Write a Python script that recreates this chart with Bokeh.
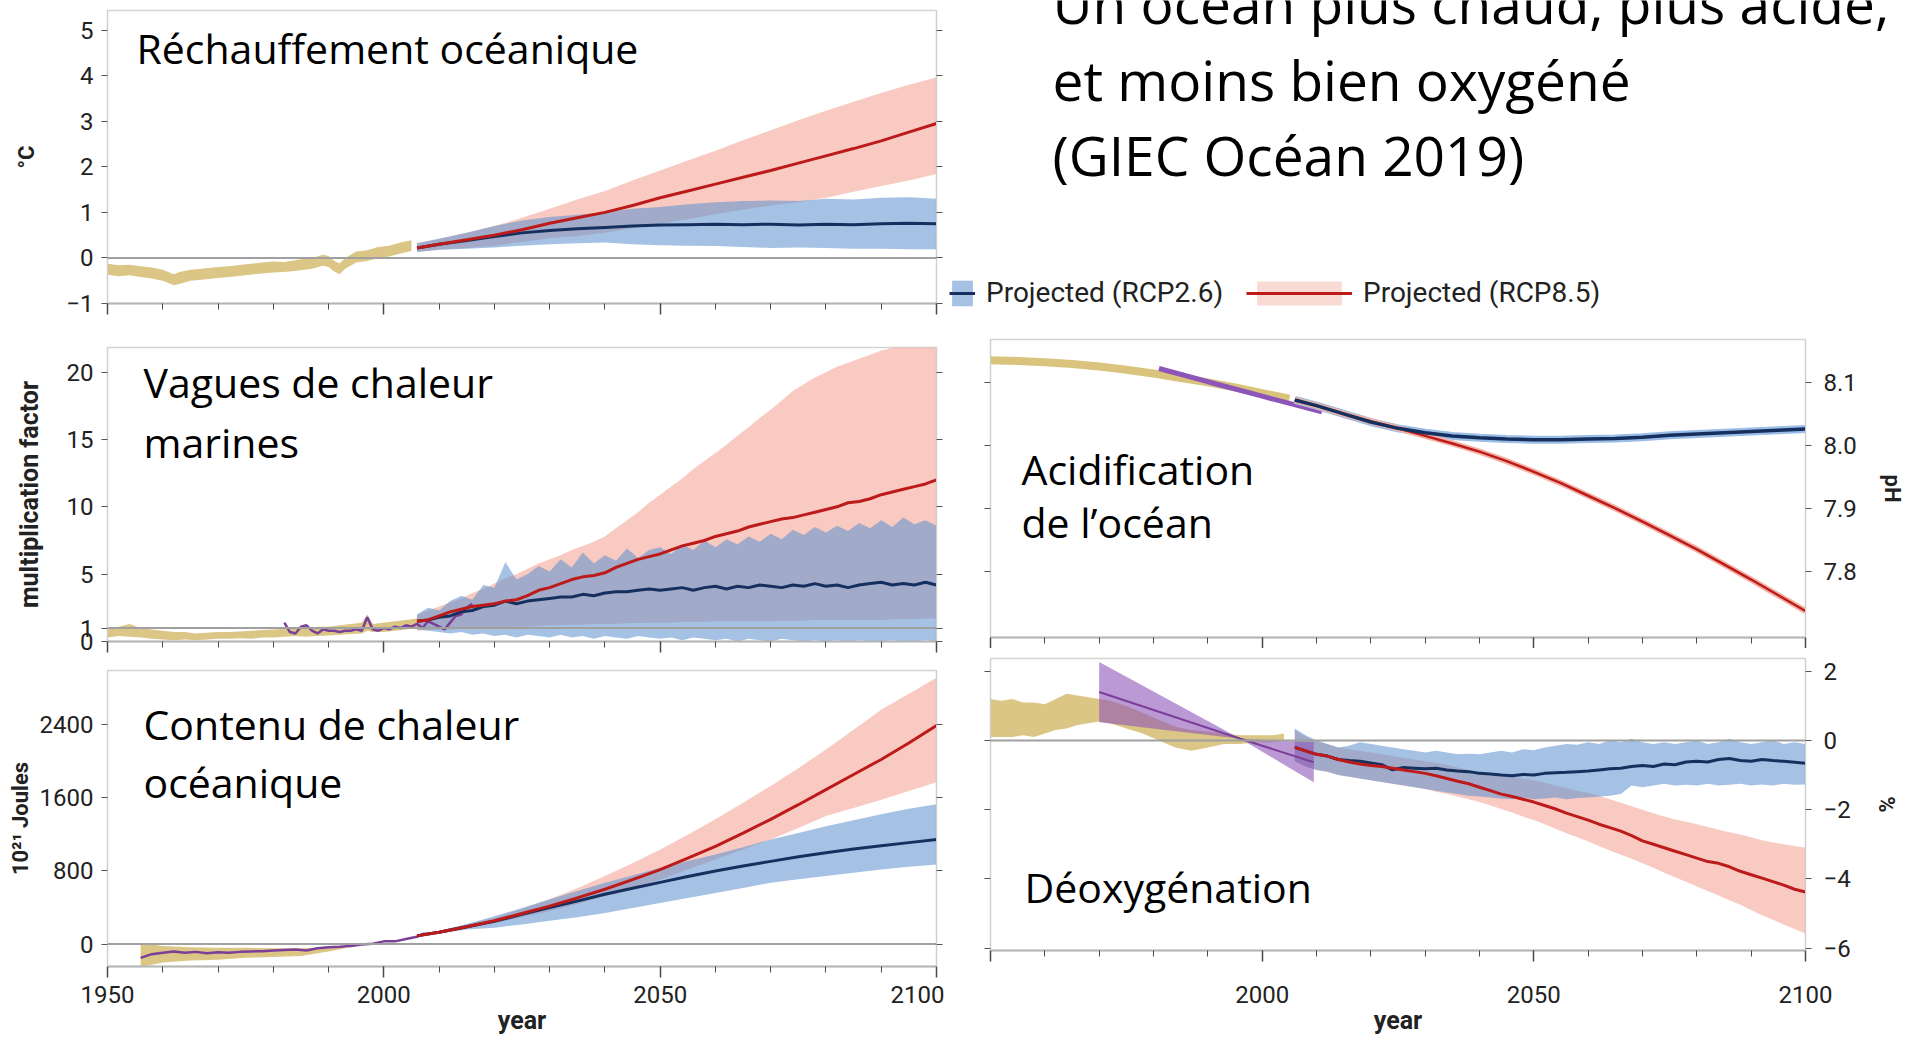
from bokeh.plotting import figure
from bokeh.layouts import row, column
from bokeh.models import Range1d, LinearAxis, FixedTicker, Label, Legend, LegendItem, Span
from bokeh.embed import file_html
from bokeh.resources import INLINE

# ---------------- DATA ----------------
x_major = [1950, 2000, 2050, 2100]
x_minor = [1950, 1960, 1970, 1980, 1990, 2000, 2010, 2020, 2030, 2040, 2050, 2060, 2070, 2080, 2090, 2100]

proj5_years = [2006, 2010, 2015, 2020, 2025, 2030, 2035, 2040, 2045, 2050,
               2055, 2060, 2065, 2070, 2075, 2080, 2085, 2090, 2095, 2100]
proj2_years = list(range(2006, 2101, 2))

# Sea surface warming (°C)
sst_hist_years = [1950, 1952, 1954, 1956, 1958, 1960, 1962, 1963, 1965, 1967, 1970, 1972, 1975, 1978, 1980,
                  1982, 1985, 1987, 1989, 1990, 1991, 1992, 1993, 1995, 1997, 1999, 2001, 2003, 2005]
sst_hist_lo = [-0.37, -0.4, -0.38, -0.42, -0.45, -0.5, -0.6, -0.57, -0.5, -0.48, -0.44, -0.42, -0.38, -0.34, -0.32,
               -0.31, -0.27, -0.24, -0.17, -0.2, -0.3, -0.36, -0.24, -0.1, -0.07, 0.0, 0.03, 0.1, 0.15]
sst_hist_hi = [-0.13, -0.16, -0.15, -0.18, -0.21, -0.26, -0.36, -0.31, -0.26, -0.24, -0.2, -0.18, -0.14, -0.1, -0.08,
               -0.09, -0.03, 0.0, 0.07, 0.04, -0.06, -0.12, 0.0, 0.14, 0.17, 0.24, 0.27, 0.34, 0.39]
sst_26 = [0.22, 0.3, 0.38, 0.47, 0.55, 0.6, 0.64, 0.67, 0.7, 0.72, 0.73, 0.74, 0.73, 0.74, 0.72, 0.74, 0.73, 0.75, 0.76, 0.75]
sst_26_lo = [0.13, 0.18, 0.2, 0.23, 0.27, 0.3, 0.32, 0.34, 0.3, 0.28, 0.27, 0.26, 0.24, 0.22, 0.23, 0.22, 0.2, 0.2, 0.19, 0.19]
sst_26_hi = [0.32, 0.42, 0.55, 0.7, 0.82, 0.9, 0.95, 1.0, 1.08, 1.12, 1.18, 1.22, 1.25, 1.26, 1.25, 1.3, 1.28, 1.32, 1.33, 1.3]
sst_85 = [0.22, 0.3, 0.4, 0.5, 0.62, 0.76, 0.88, 1.0, 1.15, 1.32, 1.47, 1.62, 1.77, 1.92, 2.08, 2.24, 2.4, 2.57, 2.76, 2.95]
sst_85_lo = [0.13, 0.18, 0.22, 0.27, 0.35, 0.43, 0.48, 0.55, 0.65, 0.75, 0.85, 0.96, 1.06, 1.15, 1.22, 1.32, 1.45, 1.58, 1.7, 1.84]
sst_85_hi = [0.32, 0.42, 0.55, 0.7, 0.88, 1.08, 1.28, 1.47, 1.7, 1.92, 2.14, 2.35, 2.58, 2.8, 3.02, 3.23, 3.43, 3.62, 3.8, 3.96]

# Marine heatwaves (multiplication factor)
mhw_hist_years = [1950, 1952, 1954, 1956, 1958, 1960, 1962, 1964, 1966, 1968, 1970, 1972, 1974, 1976, 1978,
                  1980, 1982, 1984, 1986, 1988, 1990, 1992, 1994, 1996, 1997, 1998, 2000, 2002, 2004, 2006]
mhw_hist_lo = [0.3, 0.4, 0.35, 0.3, 0.2, 0.15, 0.1, 0.15, 0.1, 0.15, 0.2, 0.2, 0.25, 0.2, 0.3,
               0.3, 0.35, 0.4, 0.35, 0.4, 0.45, 0.5, 0.55, 0.6, 0.8, 0.7, 0.7, 0.8, 0.9, 1.0]
mhw_hist_hi = [0.9, 1.1, 1.3, 1.0, 0.9, 0.8, 0.7, 0.7, 0.6, 0.65, 0.7, 0.7, 0.75, 0.8, 0.85,
               0.9, 0.95, 1.0, 1.0, 1.1, 1.1, 1.2, 1.3, 1.4, 2.0, 1.3, 1.4, 1.5, 1.6, 1.7]
mhw_obs_years = list(range(1982, 2017))
mhw_obs = [1.4, 0.7, 0.6, 1.1, 1.2, 0.8, 0.6, 0.9, 0.8, 0.8, 0.7, 0.8, 0.8, 0.9, 0.8, 1.8, 0.9, 0.8,
           1.0, 0.9, 1.1, 1.0, 1.2, 1.1, 1.3, 1.0, 1.5, 1.3, 1.1, 0.9, 1.4, 1.9, 2.0, 2.5, 2.8]
mhw_26 = [1.5, 1.6, 1.8, 1.9, 2.2, 2.3, 2.6, 2.7, 3.0, 2.8, 3.0, 3.1, 3.2, 3.3, 3.3, 3.5, 3.4, 3.6, 3.7, 3.7,
          3.8, 3.9, 3.8, 3.9, 4.0, 3.8, 4.0, 4.1, 3.9, 4.1, 4.0, 4.2, 4.1, 4.0, 4.2, 4.1, 4.3, 4.1, 4.2, 4.0,
          4.2, 4.3, 4.4, 4.2, 4.3, 4.2, 4.4, 4.2]
mhw_26_lo = [0.9, 0.8, 0.7, 0.6, 0.7, 0.5, 0.6, 0.4, 0.5, 0.3, 0.5, 0.4, 0.3, 0.5, 0.3, 0.4, 0.2, 0.4, 0.3, 0.2,
             0.4, 0.3, 0.2, 0.3, 0.1, 0.3, 0.2, 0.1, 0.2, 0.0, 0.2, 0.1, 0.0, 0.2, 0.1, 0.0, 0.1, 0.0, 0.1, 0.0,
             0.1, 0.0, 0.0, 0.1, 0.0, 0.0, 0.1, 0.0]
mhw_26_hi = [2.0, 2.5, 2.3, 3.0, 3.4, 3.1, 4.2, 4.0, 5.9, 4.6, 5.0, 5.6, 5.2, 6.1, 5.5, 6.6, 5.8, 6.4, 6.0, 6.9,
             6.2, 6.8, 7.0, 6.5, 7.2, 6.8, 7.5, 7.0, 7.6, 7.2, 7.8, 7.4, 8.0, 7.6, 8.3, 7.9, 8.5, 8.1, 8.6, 8.2,
             8.8, 8.4, 9.0, 8.5, 9.2, 8.7, 9.0, 8.6]
mhw_85 = [1.5, 1.6, 1.9, 2.2, 2.4, 2.6, 2.7, 2.8, 3.0, 3.1, 3.4, 3.8, 4.0, 4.3, 4.6, 4.8, 4.9, 5.1, 5.5, 5.8,
          6.1, 6.3, 6.5, 6.8, 7.1, 7.3, 7.5, 7.8, 8.0, 8.2, 8.5, 8.7, 8.9, 9.1, 9.2, 9.4, 9.6, 9.8, 10.0, 10.3,
          10.4, 10.6, 10.9, 11.1, 11.3, 11.5, 11.7, 12.0]
mhw_85_lo = [0.8, 0.85, 0.9, 0.9, 0.95, 0.95, 1.0, 1.0, 1.05, 1.1, 1.1, 1.15, 1.2, 1.2, 1.25, 1.25, 1.3, 1.3, 1.3, 1.35,
             1.35, 1.4, 1.4, 1.4, 1.45, 1.45, 1.45, 1.5, 1.5, 1.5, 1.5, 1.5, 1.5, 1.55, 1.55, 1.55, 1.6, 1.6, 1.6, 1.6,
             1.6, 1.6, 1.6, 1.65, 1.65, 1.65, 1.7, 1.7]
mhw_85_hi = [2.0, 2.3, 2.6, 2.9, 3.2, 3.6, 3.9, 4.3, 4.7, 5.0, 5.4, 5.8, 6.1, 6.4, 6.8, 7.1, 7.4, 7.8, 8.4, 9.0,
             9.6, 10.3, 10.9, 11.5, 12.1, 12.8, 13.4, 14.0, 14.6, 15.3, 15.9, 16.6, 17.2, 17.9, 18.6, 19.1, 19.6, 20.0,
             20.4, 20.7, 21.0, 21.3, 21.6, 21.8, 22.0, 22.2, 22.4, 22.5]

# Ocean heat content (10^21 J)
ohc_hist_years = [1956, 1960, 1965, 1970, 1975, 1980, 1985, 1990, 1993]
ohc_hist_lo = [-250, -200, -180, -170, -150, -140, -130, -80, -45]
ohc_hist_hi = [10, -20, -35, -40, -40, -45, -45, -35, -20]
ohc_obs_years = [1956, 1958, 1960, 1962, 1964, 1966, 1968, 1970, 1972, 1974, 1976, 1978, 1980, 1982, 1984, 1986,
                 1988, 1990, 1992, 1994, 1996, 1998, 2000, 2002, 2004, 2006, 2007, 2008, 2010, 2012, 2014, 2016, 2017]
ohc_obs = [-150, -110, -95, -80, -95, -85, -100, -90, -95, -85, -80, -78, -70, -65, -60, -70,
           -45, -35, -28, -20, -5, 5, 30, 30, 55, 80, 110, 115, 130, 155, 175, 200, 215]
ohc_26 = [90, 130, 190, 250, 325, 400, 470, 545, 610, 675, 740, 800, 855, 905, 955, 1000, 1040, 1075, 1110, 1145]
ohc_26_lo = [80, 115, 160, 180, 215, 255, 295, 340, 395, 450, 505, 560, 615, 670, 710, 745, 780, 815, 845, 870]
ohc_26_hi = [100, 145, 220, 305, 395, 490, 580, 670, 750, 835, 910, 980, 1060, 1145, 1215, 1290, 1355, 1420, 1480, 1530]
ohc_85 = [90, 130, 190, 255, 335, 415, 505, 600, 705, 815, 940, 1070, 1215, 1365, 1525, 1690, 1855, 2020, 2200, 2390]
ohc_85_lo = [80, 115, 165, 230, 295, 360, 440, 525, 615, 705, 815, 925, 1035, 1145, 1270, 1400, 1490, 1580, 1675, 1770]
ohc_85_hi = [100, 145, 215, 290, 385, 490, 610, 745, 885, 1035, 1195, 1365, 1545, 1730, 1925, 2130, 2345, 2565, 2740, 2915]

# Surface pH
ph_hist_years = [1950, 1955, 1960, 1965, 1970, 1975, 1980, 1985, 1990, 1995, 2000, 2005]
ph_hist = [8.135, 8.134, 8.132, 8.129, 8.125, 8.12, 8.114, 8.107, 8.1, 8.092, 8.083, 8.074]
ph_obs_years = [1981, 1990, 2000, 2011]
ph_obs = [8.122, 8.101, 8.078, 8.053]
ph_26 = [8.072, 8.063, 8.05, 8.037, 8.027, 8.02, 8.015, 8.012, 8.01, 8.009, 8.009, 8.01, 8.011, 8.013, 8.016,
         8.018, 8.02, 8.022, 8.024, 8.026]
ph_85 = [8.072, 8.063, 8.05, 8.038, 8.027, 8.015, 8.003, 7.99, 7.975, 7.958, 7.94, 7.92, 7.9, 7.879, 7.857,
         7.835, 7.811, 7.787, 7.762, 7.737]

# Oxygen content (%)
ox_hist_years = [1950, 1952, 1954, 1956, 1958, 1960, 1962, 1964, 1966, 1968, 1970, 1972, 1975, 1978, 1981, 1984,
                 1987, 1990, 1993, 1996, 1999, 2002, 2004]
ox_hist_lo = [0.1, 0.1, 0.1, 0.15, 0.1, 0.2, 0.3, 0.35, 0.45, 0.5, 0.55, 0.5, 0.35, 0.2, 0.0, -0.2,
              -0.3, -0.2, -0.1, -0.1, -0.05, -0.05, 0.0]
ox_hist_hi = [1.2, 1.15, 1.2, 1.1, 1.1, 1.05, 1.2, 1.35, 1.3, 1.25, 1.2, 1.15, 1.0, 0.8, 0.6, 0.4,
              0.3, 0.25, 0.2, 0.15, 0.15, 0.15, 0.2]
ox_obs_years = [1970, 1996, 2009.5]
ox_obs = [1.4, 0.05, -0.63]
ox_obs_lo = [0.53, 0.05, -1.21]
ox_obs_hi = [2.27, 0.05, -0.05]
ox_26 = [-0.2, -0.3, -0.4, -0.45, -0.55, -0.58, -0.6, -0.65, -0.7, -0.85, -0.78, -0.8, -0.82, -0.8, -0.85, -0.88,
         -0.9, -0.95, -0.97, -1.0, -1.02, -0.98, -1.0, -0.95, -0.93, -0.92, -0.9, -0.88, -0.85, -0.82, -0.8, -0.75,
         -0.72, -0.75, -0.68, -0.7, -0.62, -0.6, -0.62, -0.55, -0.52, -0.58, -0.6, -0.55, -0.58, -0.6, -0.63, -0.66]
ox_26_hi = [0.35, 0.15, 0.0, -0.1, -0.2, -0.15, -0.05, -0.1, -0.15, -0.2, -0.25, -0.3, -0.35, -0.3, -0.35, -0.4,
            -0.38, -0.4, -0.35, -0.3, -0.35, -0.25, -0.28, -0.2, -0.15, -0.1, -0.12, -0.05, -0.1, 0.0, -0.05, 0.05,
            -0.05, -0.1, -0.05, -0.1, -0.05, 0.0, -0.1, -0.05, 0.05, -0.05, -0.1, -0.05, 0.0, -0.1, -0.05, -0.1]
ox_26_lo = [-0.6, -0.75, -0.85, -0.9, -1.0, -1.05, -1.1, -1.15, -1.2, -1.25, -1.3, -1.35, -1.4, -1.45, -1.5, -1.55,
            -1.6, -1.62, -1.65, -1.68, -1.7, -1.65, -1.7, -1.68, -1.65, -1.7, -1.66, -1.65, -1.62, -1.6, -1.55, -1.3,
            -1.35, -1.3, -1.25, -1.3, -1.28, -1.3, -1.25, -1.3, -1.28, -1.25, -1.3, -1.27, -1.3, -1.25, -1.28, -1.27]
ox_85 = [-0.2, -0.3, -0.4, -0.45, -0.55, -0.62, -0.68, -0.72, -0.75, -0.8, -0.85, -0.9, -0.95, -1.02, -1.1, -1.18,
         -1.25, -1.35, -1.45, -1.55, -1.62, -1.7, -1.78, -1.88, -1.98, -2.1, -2.2, -2.3, -2.42, -2.52, -2.62, -2.75,
         -2.9, -3.0, -3.1, -3.2, -3.3, -3.4, -3.5, -3.55, -3.65, -3.78, -3.88, -3.98, -4.08, -4.18, -4.3, -4.38]
ox_85_hi = [0.3, 0.1, 0.0, -0.1, -0.2, -0.25, -0.3, -0.35, -0.4, -0.45, -0.5, -0.55, -0.6, -0.65, -0.7, -0.78,
            -0.85, -0.9, -0.95, -1.0, -1.05, -1.1, -1.15, -1.22, -1.3, -1.38, -1.45, -1.52, -1.6, -1.7, -1.8, -1.9,
            -2.0, -2.1, -2.2, -2.28, -2.35, -2.42, -2.5, -2.58, -2.65, -2.72, -2.8, -2.88, -2.95, -3.0, -3.05, -3.1]
ox_85_lo = [-0.6, -0.75, -0.85, -0.9, -1.0, -1.05, -1.1, -1.15, -1.2, -1.25, -1.3, -1.35, -1.4, -1.48, -1.55, -1.62,
            -1.7, -1.78, -1.88, -1.98, -2.08, -2.2, -2.3, -2.42, -2.55, -2.68, -2.8, -2.92, -3.05, -3.18, -3.3, -3.42,
            -3.55, -3.68, -3.82, -3.95, -4.08, -4.22, -4.35, -4.48, -4.62, -4.75, -4.9, -5.05, -5.18, -5.32, -5.45, -5.58]

# ---------------- STYLE ----------------
TAN = "#d2b866"
PURPLE = "#7b3f99"
PINK = "#f29684"
BLUE_BAND = "#5b8fd0"
BLUE_LINE = "#15305f"
RED_LINE = "#bd1a1a"
AX_FONT = "Roboto"
TITLE_FONT = "Open Sans"
LABEL_SHIFT = 14     # baseline correction for the 41px panel titles
TITLE_SHIFT = 21     # baseline correction for the 55px main title


def base_fig(w, h, yr, bl, br, bt, bb):
    p = figure(width=w, height=h, x_range=Range1d(1950, 2100), y_range=Range1d(*yr),
               output_backend="svg", toolbar_location=None,
               x_axis_location=None, y_axis_location=None,
               min_border_left=bl, min_border_right=br, min_border_top=bt, min_border_bottom=bb)
    p.grid.visible = False
    p.outline_line_color = "#d4d4d4"
    p.outline_line_width = 1.5
    p.background_fill_color = "white"
    p.border_fill_color = "white"
    return p


def blank_labels(ax, ticks):
    ax.major_label_overrides = {t: "" for t in ticks}
    ax.major_label_text_font_size = "1px"
    ax.major_label_standoff = 0


def x_axis(p, labels=False, standoff=10, title=None, overrides=None):
    ax = LinearAxis(ticker=FixedTicker(ticks=x_major, minor_ticks=x_minor))
    ax.axis_line_color = "#b5b5b5"
    ax.axis_line_width = 2
    ax.major_tick_line_color = "#4a4a4a"
    ax.major_tick_line_width = 1.5
    ax.major_tick_out = 11
    ax.major_tick_in = 0
    ax.minor_tick_line_color = "#4a4a4a"
    ax.minor_tick_out = 6
    ax.minor_tick_in = 0
    if labels:
        ax.major_label_text_font = AX_FONT
        ax.major_label_text_font_size = "24px"
        ax.major_label_text_color = "#222222"
        ax.major_label_standoff = standoff
        if overrides:
            ax.major_label_overrides = overrides
    else:
        blank_labels(ax, x_major)
    if title:
        ax.axis_label = title
        ax.axis_label_text_font = AX_FONT
        ax.axis_label_text_font_style = "bold"
        ax.axis_label_text_font_size = "25px"
        ax.axis_label_text_color = "#222222"
        ax.axis_label_standoff = 0
    p.add_layout(ax, "below")


def y_axis(p, ticks, side, labels=True, title=None, standoff=8, title_standoff=10, overrides=None,
           title_size="22px"):
    ax = LinearAxis(ticker=FixedTicker(ticks=ticks, minor_ticks=[]))
    ax.axis_line_color = "#cfcfcf"
    ax.major_tick_line_color = "#555555"
    ax.major_tick_out = 6
    ax.major_tick_in = 0
    if labels:
        ax.major_label_text_font = AX_FONT
        ax.major_label_text_font_size = "24px"
        ax.major_label_text_color = "#222222"
        ax.major_label_standoff = standoff
        if overrides:
            ax.major_label_overrides = overrides
    else:
        blank_labels(ax, ticks)
    if title:
        ax.axis_label = title
        ax.axis_label_text_font = AX_FONT
        ax.axis_label_text_font_style = "bold"
        ax.axis_label_text_font_size = title_size
        ax.axis_label_text_color = "#222222"
        ax.axis_label_standoff = title_standoff
    p.add_layout(ax, side)


def hline(p, v):
    p.add_layout(Span(location=v, dimension="width", line_color="#a0a0a0", line_width=2))


def xpx(px, x0, x1):
    return 1950 + (px - x0) * 150.0 / (x1 - x0)


def ypx(py, top, bot, ymin, ymax):
    return ymax - (py - LABEL_SHIFT - top) * (ymax - ymin) / (bot - top)


def text(p, x, y, s, size="41px", font=TITLE_FONT):
    p.add_layout(Label(x=x, y=y, text=s, text_font=font, text_font_size=size,
                       text_color="black", text_baseline="alphabetic", text_align="left"))


# ---------------- LEFT COLUMN ----------------
LW = 944
LX0, LX1 = 107, 936

# Panel 1: warming
Y1 = (-1.0, 5.43)
p1 = base_fig(LW, 330, Y1, 107, 8, 10, 27)
y_axis(p1, [-1, 0, 1, 2, 3, 4, 5], "left", title="°C", standoff=8, title_standoff=24, overrides={-1: "−1"})
y_axis(p1, [-1, 0, 1, 2, 3, 4, 5], "right", labels=False)
x_axis(p1)
hline(p1, 0)
p1.varea(x=proj5_years, y1=sst_85_lo, y2=sst_85_hi, fill_color=PINK, fill_alpha=0.5)
p1.varea(x=proj5_years, y1=sst_26_lo, y2=sst_26_hi, fill_color=BLUE_BAND, fill_alpha=0.55)
p1.varea(x=sst_hist_years, y1=sst_hist_lo, y2=sst_hist_hi, fill_color=TAN, fill_alpha=0.8)
p1.line(x=proj5_years, y=sst_26, line_color=BLUE_LINE, line_width=3)
p1.line(x=proj5_years, y=sst_85, line_color=RED_LINE, line_width=3)
text(p1, xpx(136, LX0, LX1), ypx(61, 10, 303, *Y1), "Réchauffement océanique")

# Panel 2: marine heatwaves
Y2 = (0.0, 21.83)
p2 = base_fig(LW, 325, Y2, 107, 8, 17, 14)
y_axis(p2, [0, 1, 5, 10, 15, 20], "left", title="multiplication factor", standoff=8, title_standoff=20,
       title_size="25px")
y_axis(p2, [0, 1, 5, 10, 15, 20], "right", labels=False)
x_axis(p2)
hline(p2, 1)
p2.varea(x=proj2_years, y1=mhw_85_lo, y2=mhw_85_hi, fill_color=PINK, fill_alpha=0.5)
p2.varea(x=proj2_years, y1=mhw_26_lo, y2=mhw_26_hi, fill_color=BLUE_BAND, fill_alpha=0.55)
p2.varea(x=mhw_hist_years, y1=mhw_hist_lo, y2=mhw_hist_hi, fill_color=TAN, fill_alpha=0.8)
p2.line(x=mhw_obs_years, y=mhw_obs, line_color=PURPLE, line_width=2.5)
p2.line(x=proj2_years, y=mhw_26, line_color=BLUE_LINE, line_width=3)
p2.line(x=proj2_years, y=mhw_85, line_color=RED_LINE, line_width=3)
text(p2, xpx(143, LX0, LX1), ypx(395, 347, 641, *Y2), "Vagues de chaleur")
text(p2, xpx(143, LX0, LX1), ypx(455, 347, 641, *Y2), "marines")

# Panel 3: heat content
Y3 = (-245.0, 2993.0)
p3 = base_fig(LW, 386, Y3, 107, 8, 15, 75)
y_axis(p3, [0, 800, 1600, 2400], "left", title="10²¹ Joules", standoff=8, title_standoff=4)
y_axis(p3, [0, 800, 1600, 2400], "right", labels=False)
x_axis(p3, labels=True, standoff=8, title="year")
hline(p3, 0)
p3.varea(x=proj5_years, y1=ohc_85_lo, y2=ohc_85_hi, fill_color=PINK, fill_alpha=0.5)
p3.varea(x=proj5_years, y1=ohc_26_lo, y2=ohc_26_hi, fill_color=BLUE_BAND, fill_alpha=0.55)
p3.varea(x=ohc_hist_years, y1=ohc_hist_lo, y2=ohc_hist_hi, fill_color=TAN, fill_alpha=0.8)
p3.line(x=ohc_obs_years, y=ohc_obs, line_color=PURPLE, line_width=2.5)
p3.line(x=proj5_years, y=ohc_26, line_color=BLUE_LINE, line_width=3)
p3.line(x=proj5_years, y=ohc_85, line_color=RED_LINE, line_width=3)
text(p3, xpx(143, LX0, LX1), ypx(737, 670, 966, *Y3), "Contenu de chaleur")
text(p3, xpx(143, LX0, LX1), ypx(795, 670, 966, *Y3), "océanique")

# ---------------- RIGHT COLUMN ----------------
RW = 977
RX_PAGE = 944            # page x of the right column
RX0, RX1 = 990, 1805
TH = 328

# Title + legend (figure coordinates = pixels from the column's top-left corner)
pt = figure(width=RW, height=TH, x_range=Range1d(0, RW), y_range=Range1d(TH, 0),
            output_backend="svg", toolbar_location=None, x_axis_location=None, y_axis_location=None,
            min_border_left=0, min_border_right=0, min_border_top=0, min_border_bottom=0)
pt.grid.visible = False
pt.outline_line_color = None
pt.border_fill_color = "white"
pt.background_fill_color = "white"
for base_y, s in [(23, "Un océan plus chaud, plus acide,"), (100, "et moins bien oxygéné"), (175, "(GIEC Océan 2019)")]:
    pt.add_layout(Label(x=1052 - RX_PAGE, y=base_y - TITLE_SHIFT, text=s, text_font=TITLE_FONT,
                        text_font_size="55px", text_color="black", text_baseline="alphabetic"))
# legend swatch renderers (their years lie outside this figure's pixel range, so only the legend shows them)
lb_area = pt.varea(x=proj5_years, y1=sst_26_lo, y2=sst_26_hi, fill_color=BLUE_BAND, fill_alpha=0.55)
lb_line = pt.line(x=proj5_years, y=sst_26, line_color=BLUE_LINE, line_width=3)
lr_area = pt.varea(x=proj5_years, y1=sst_85_lo, y2=sst_85_hi, fill_color=PINK, fill_alpha=0.35)
lr_line = pt.line(x=proj5_years, y=sst_85, line_color=RED_LINE, line_width=3)
legend_style = dict(label_height=32, label_standoff=11, padding=0, margin=0, border_line_color=None,
                    background_fill_alpha=0, label_text_font=AX_FONT, label_text_font_size="28px",
                    label_text_color="#222222")
leg1 = Legend(items=[LegendItem(label="Projected (RCP2.6)", renderers=[lb_area, lb_line])],
              location=(949 - RX_PAGE, TH - 309), glyph_width=26, glyph_height=32, **legend_style)
leg2 = Legend(items=[LegendItem(label="Projected (RCP8.5)", renderers=[lr_area, lr_line])],
              location=(1246 - RX_PAGE, TH - 309), glyph_width=106, glyph_height=30, **legend_style)
pt.add_layout(leg1)
pt.add_layout(leg2)

# Panel 4: pH
Y4 = (7.695, 8.168)
p4 = base_fig(RW, 320, Y4, RX0 - RX_PAGE, RX_PAGE + RW - RX1, 11, 11)
y_axis(p4, [7.8, 7.9, 8.0, 8.1], "left", labels=False)
y_axis(p4, [7.8, 7.9, 8.0, 8.1], "right", title="pH", standoff=12, title_standoff=20,
       overrides={7.8: "7.8", 7.9: "7.9", 8.0: "8.0", 8.1: "8.1"})
x_axis(p4)
p4.line(x=ph_hist_years, y=ph_hist, line_color=TAN, line_width=8, line_alpha=0.85)
p4.line(x=ph_obs_years, y=ph_obs, line_color="#8d55b8", line_width=5)
p4.line(x=proj5_years, y=ph_26, line_color="#9cbde6", line_width=8)
p4.line(x=proj5_years, y=ph_85, line_color="#f3b1a4", line_width=6)
p4.line(x=proj5_years, y=ph_85, line_color=RED_LINE, line_width=2.5)
p4.line(x=proj5_years, y=ph_26, line_color=BLUE_LINE, line_width=3.5)
text(p4, xpx(1021, RX0, RX1), ypx(482, 339, 637, *Y4), "Acidification")
text(p4, xpx(1021, RX0, RX1), ypx(535, 339, 637, *Y4), "de l’océan")

# Panel 5: oxygen
Y5 = (-6.07, 2.37)
p5 = base_fig(RW, 393, Y5, RX0 - RX_PAGE, RX_PAGE + RW - RX1, 10, 91)
y_axis(p5, [-6, -4, -2, 0, 2], "left", labels=False)
y_axis(p5, [-6, -4, -2, 0, 2], "right", title="%", standoff=12, title_standoff=20,
       overrides={-6: "−6", -4: "−4", -2: "−2"})
x_axis(p5, labels=True, standoff=24, title="year", overrides={1950: ""})
hline(p5, 0)
p5.varea(x=proj2_years, y1=ox_85_lo, y2=ox_85_hi, fill_color=PINK, fill_alpha=0.5)
p5.varea(x=proj2_years, y1=ox_26_lo, y2=ox_26_hi, fill_color=BLUE_BAND, fill_alpha=0.55)
p5.varea(x=ox_hist_years, y1=ox_hist_lo, y2=ox_hist_hi, fill_color=TAN, fill_alpha=0.8)
p5.varea(x=ox_obs_years, y1=ox_obs_lo, y2=ox_obs_hi, fill_color="#8d55b8", fill_alpha=0.6)
p5.line(x=ox_obs_years, y=ox_obs, line_color=PURPLE, line_width=2)
p5.line(x=proj2_years, y=ox_26, line_color=BLUE_LINE, line_width=3)
p5.line(x=proj2_years, y=ox_85, line_color=RED_LINE, line_width=3)
text(p5, xpx(1024, RX0, RX1), ypx(900, 658, 950, *Y5), "Déoxygénation")

layout = row(column(p1, p2, p3), column(pt, column(p4, p5)))
open("out.html", "w").write(file_html(layout, INLINE))
